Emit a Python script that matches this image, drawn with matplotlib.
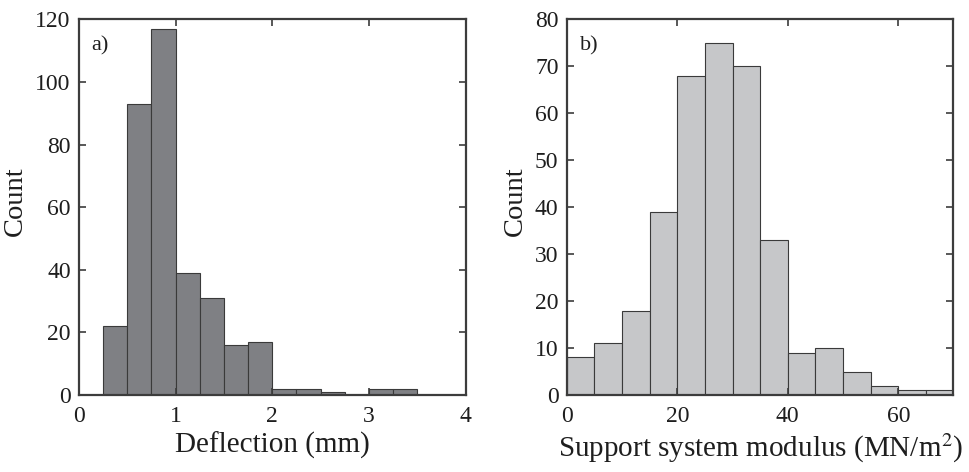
import numpy as np
import matplotlib.pyplot as plt

# deflection histogram (mm), bin width 0.25
defl_edges = [0.25, 0.5, 0.75, 1.0, 1.25, 1.5, 1.75, 2.0, 2.25, 2.5, 2.75, 3.0, 3.25, 3.5]
defl_counts = [22, 93, 117, 39, 31, 16, 17, 2, 2, 1, 0, 2, 2]

# support system modulus histogram (MN/m^2), bin width 5
mod_edges = [0, 5, 10, 15, 20, 25, 30, 35, 40, 45, 50, 55, 60, 65, 70]
mod_counts = [8, 11, 18, 39, 68, 75, 70, 33, 9, 10, 5, 2, 1, 1]

plt.rcParams['font.family'] = ['Liberation Serif', 'DejaVu Serif']
plt.rcParams['mathtext.fontset'] = 'stix'

frame_col = '#3c3c3c'
text_col = '#1e1e1e'

fig = plt.figure(figsize=(9.69, 4.72), dpi=100)
ax1 = fig.add_axes([0.0815, 0.163, 0.399, 0.796])
ax2 = fig.add_axes([0.585, 0.163, 0.399, 0.796])


def draw_hist(ax, edges, counts, color):
    e = np.array(edges, dtype=float)
    ax.bar(e[:-1], counts, width=np.diff(e), align='edge', color=color,
           edgecolor='#3a3a3a', linewidth=0.8)


draw_hist(ax1, defl_edges, defl_counts, '#7f8084')
draw_hist(ax2, mod_edges, mod_counts, '#c6c7c9')

ax1.set_xlim(0, 4)
ax1.set_ylim(0, 120)
ax1.set_xticks([0, 1, 2, 3, 4])
ax1.set_yticks(range(0, 121, 20))
ax1.set_xlabel('Deflection (mm)', fontsize=21, color=text_col, labelpad=3)
ax1.set_ylabel('Count', fontsize=20.5, color=text_col)
ax1.yaxis.set_label_coords(-0.133, 0.515)
ax1.text(0.033, 0.93, 'a)', transform=ax1.transAxes, fontsize=16, color=text_col,
         va='center', ha='left')

ax2.set_xlim(0, 70)
ax2.set_ylim(0, 80)
ax2.set_xticks([0, 20, 40, 60])
ax2.set_yticks(range(0, 81, 10))
ax2.set_xlabel('Support system modulus (MN/m$^2$)', fontsize=21, color=text_col, labelpad=3)
ax2.set_ylabel('Count', fontsize=20.5, color=text_col)
ax2.yaxis.set_label_coords(-0.102, 0.515)
ax2.text(0.033, 0.93, 'b)', transform=ax2.transAxes, fontsize=16, color=text_col,
         va='center', ha='left')

for ax in (ax1, ax2):
    for s in ax.spines.values():
        s.set_color(frame_col)
        s.set_linewidth(1.6)
    ax.tick_params(direction='in', top=True, right=True, length=5, width=1.2,
                   color=frame_col, labelsize=17, labelcolor=text_col)
    ax.tick_params(axis='x', pad=8)
    ax.tick_params(axis='y', pad=6)

fig.savefig('out.png', dpi=100)
